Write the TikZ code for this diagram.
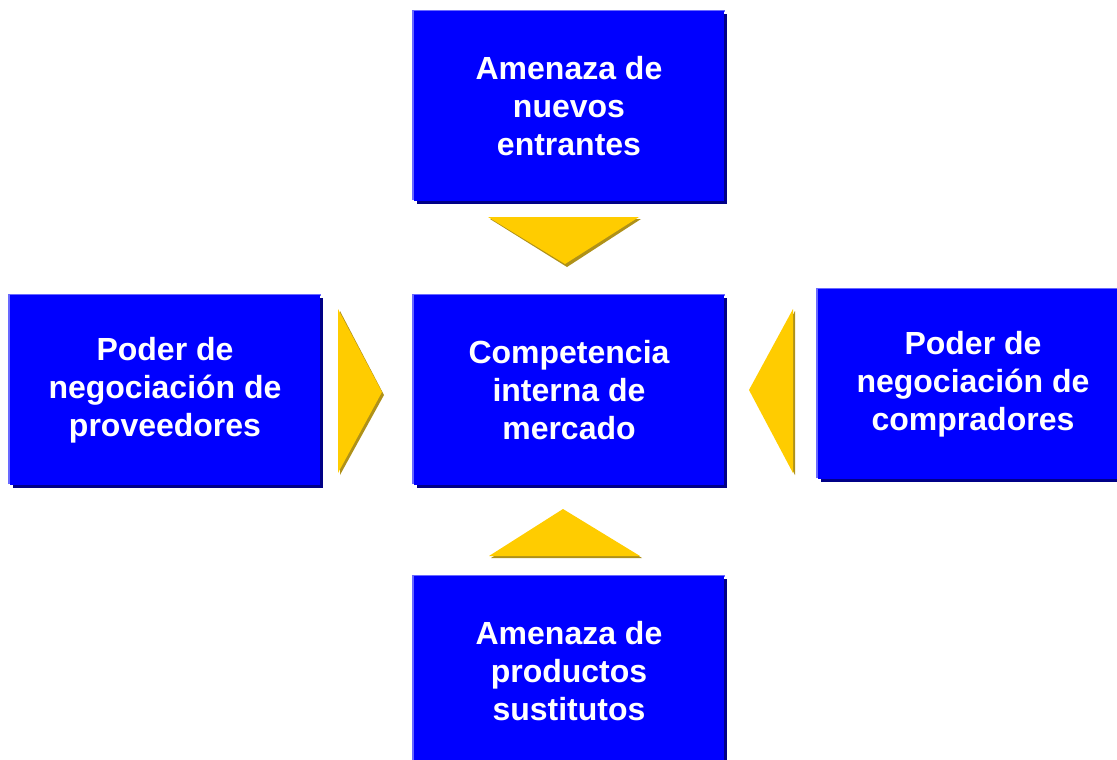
\documentclass[tikz,border=0pt]{standalone}
\usepackage{fontspec}
\setmainfont{Liberation Sans}
\usepackage{xcolor}
\usetikzlibrary{shadows}

\definecolor{boxblue}{RGB}{0,0,255}
\definecolor{edgeblue}{RGB}{105,105,255}
\definecolor{shadeblue}{RGB}{0,0,135}
\definecolor{arrowgold}{RGB}{255,204,0}
\definecolor{arrowdark}{RGB}{175,145,25}

\tikzset{
    forcebox/.style={rectangle, fill=boxblue, text=white, align=center,
        minimum width=3.1cm, minimum height=1.89cm, inner sep=0pt,
        font=\fontsize{9.1pt}{10.8pt}\selectfont\bfseries,
        drop shadow={shadow xshift=0.03cm, shadow yshift=-0.03cm, fill=shadeblue, opacity=1},
        append after command={\pgfextra{\draw[edgeblue, line width=0.02cm]
            ([yshift=0.01cm]\tikzlastnode.south west) -- (\tikzlastnode.north west) -- (\tikzlastnode.north east);}}},
    pointer/.style={fill=arrowgold},
    pointershade/.style={fill=arrowdark}
}

\begin{document}
\begin{tikzpicture}[x=0.01cm, y=-0.01cm]
    \useasboundingbox (0,0) rectangle (1117,760);

    % Forces
    \node[forcebox] (entrantes) at (569,106) {Amenaza de\\nuevos\\entrantes};
    \node[forcebox] (proveedores) at (165,390) {Poder de\\negociación de\\proveedores};
    \node[forcebox] (competencia) at (569,390) {Competencia\\interna de\\mercado};
    \node[forcebox] (compradores) at (973,384) {Poder de\\negociación de\\compradores};
    \node[forcebox] (sustitutos) at (569,671) {Amenaza de\\productos\\sustitutos};

    % Pointers towards the centre
    \fill[pointershade] (490,219) -- (641,219) -- (567,267) -- cycle;
    \fill[pointer] (488,217) -- (639,217) -- (565,264) -- cycle;

    \fill[pointershade] (340,311) -- (340,475) -- (384,395) -- cycle;
    \fill[pointer] (338,309) -- (338,473) -- (382,392) -- cycle;

    \fill[pointershade] (795,311) -- (795,475) -- (751,392) -- cycle;
    \fill[pointer] (793,309) -- (793,473) -- (749,390) -- cycle;

    \fill[pointershade] (491,558) -- (642,558) -- (565,511) -- cycle;
    \fill[pointer] (489,556) -- (640,556) -- (563,509) -- cycle;
\end{tikzpicture}
\end{document}
